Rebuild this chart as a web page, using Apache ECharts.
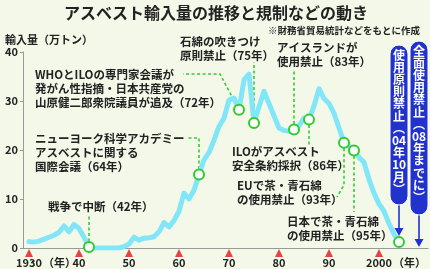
<!DOCTYPE html>
<html><head><meta charset="utf-8">
<script src="https://cdn.jsdelivr.net/npm/echarts@6/dist/echarts.min.js"></script>
<style>html,body{margin:0;padding:0;background:#f4f8e8;}#c{width:430px;height:269px;}</style>
</head><body><div id="c"></div>
<script>
// ---- data ----
const years = [1930,1931,1932,1933,1934,1935,1936,1937,1938,1939,
  1940,1941,1942,1943,1944,1945,1946,1947,1948,1949,
  1950,1951,1952,1953,1954,1955,1956,1957,1958,1959,
  1960,1961,1962,1963,1964,1965,1966,1967,1968,1969,
  1970,1971,1972,1973,1974,1975,1976,1977,1978,1979,
  1980,1981,1982,1983,1984,1985,1986,1987,1988,1989,
  1990,1991,1992,1993,1994,1995,1996,1997,1998,1999,
  2000,2001,2002,2003,2004];
const imports = [1.3,1.2,1.4,1.8,2.2,2.6,3.2,4.5,3.3,4.8,
  4.0,2.2,0.2,0,0,0,0,0,0,0.3,
  0.8,2.2,1.6,2.0,2.1,2.3,3.3,5.2,4.3,5.6,
  7.5,11.2,10.0,11.8,15.0,18.0,19.5,22.0,24.8,26.5,
  30.2,30.6,28.2,34.3,35.5,25.5,28.8,32.0,29.5,27.0,
  24.5,24.0,23.8,24.2,25.0,26.5,26.2,29.0,32.5,30.5,
  29.5,27.5,24.5,21.5,20.8,19.9,18.5,17.5,14.0,11.2,
  9.0,7.5,5.0,2.8,1.2];
const eventYears = [1942,1964,1972,1975,1983,1986,1993,1995,2004];
const eventLabels = [
  '戦争で中断（42年）',
  'ニューヨーク科学アカデミー\nアスベストに関する\n国際会議（64年）',
  'WHOとILOの専門家会議が\n発がん性指摘・日本共産党の\n山原健二郎衆院議員が追及（72年）',
  '石綿の吹きつけ\n原則禁止（75年）',
  'アイスランドが\n使用禁止（83年）',
  'ILOがアスベスト\n安全条約採択（86年）',
  'EUで茶・青石綿\nの使用禁止（93年）',
  '日本で茶・青石綿\nの使用禁止（95年）',
  ''
];
const banYears = [2004, 2008];
const banLabels = [['使','用','原','則','禁','止','︵','04','年','10','月','︶'],
                   ['全','面','使','用','禁','止','︵','08','年','ま','で','に','︶']];
const xTickYears = [1930,1940,1950,1960,1970,1980,1990,2000];
const xUnit = '（年）';
const title = 'アスベスト輸入量の推移と規制などの動き';
const subtitle = '※財務省貿易統計などをもとに作成';
const yName = '輸入量（万トン）';

const FONT = '"Noto Sans CJK JP","Noto Sans",sans-serif';
const chart = echarts.init(document.getElementById('c'), null, {renderer:'canvas'});
const lineData = years.map((y,i)=>[y, imports[i]]);
const evData = eventYears.map(y=>[y, imports[years.indexOf(y)]]);

chart.setOption({
  backgroundColor:'#f4f8e8',
  animation:false,
  textStyle:{fontFamily:FONT},
  grid:{left:23,right:2,top:52,bottom:21,containLabel:false},
  xAxis:{type:'value',min:1928.8,max:2009.8,
    axisLine:{show:true,lineStyle:{color:'#999',width:1}},
    axisTick:{show:false},splitLine:{show:false},
    axisLabel:{customValues:xTickYears,margin:9,fontSize:11,fontWeight:'bold',color:'#222',fontFamily:FONT,
      hideOverlap:false,
      formatter:v=>{v=Number(v);return (v===1930||v===2000)?String(v):String(v%100);}}
  },
  yAxis:{type:'value',min:0,max:40,interval:10,
    name:yName,nameLocation:'end',nameGap:7,
    nameTextStyle:{align:'left',padding:[0,0,0,-18],fontSize:11,fontWeight:'bold',color:'#222',fontFamily:FONT},
    axisLine:{show:true,lineStyle:{color:'#999',width:1}},
    axisTick:{show:true,length:3,lineStyle:{color:'#999'}},
    splitLine:{show:false},
    axisLabel:{fontSize:11,fontWeight:'bold',color:'#222',margin:5,fontFamily:FONT}
  },
  series:[
    {type:'line',data:lineData,showSymbol:false,symbol:'none',
      lineStyle:{color:'#80e6f8',width:5,join:'round',cap:'round'},z:2},
    {type:'scatter',data:evData,symbol:'circle',symbolSize:10,
      itemStyle:{color:'#ffffff',borderColor:'#2ecc2e',borderWidth:2,opacity:1},z:5},
    {type:'scatter',data:xTickYears.map(y=>[y,0]),symbol:'triangle',symbolSize:[8,8],symbolOffset:[0,5],
      clip:false,itemStyle:{color:'#e01818'},z:4,silent:true}
  ]
});

// ---- annotations (layout) ----
const px = (x,y)=>chart.convertToPixel({gridIndex:0},[x,y]);
const g = [];
const LH = 14;
function txt(t,x,yc,opt){
  opt=opt||{};
  g.push({type:'text',z:opt.z||1,style:{text:t,x:x,y:yc-(opt.lh||LH)/2,
    font:(opt.weight||'bold')+' '+(opt.size||11.5)+'px '+FONT,fill:opt.fill||'#222',
    lineHeight:opt.lh||LH,verticalAlign:'top',align:opt.align||'left'}});
}
function dash(points){
  g.push({type:'polyline',z:1,shape:{points:points},style:{stroke:'#33cc33',lineWidth:1.6,lineDash:[3,2.5],fill:null}});
}
txt(title,216,13,{size:16,align:'center',lh:18});
txt(subtitle,268,30,{size:9.5,lh:12});
[1930,2000].forEach(y=>{ const p=px(y,0); txt(xUnit,p[0]+14,263,{size:11,lh:13}); });
const P = eventYears.map((y,i)=>px(y,evData[i][1]));
txt(eventLabels[0],48,207);
dash([P[0],[P[0][0],215]]);
txt(eventLabels[1],35,139);
dash([P[1],[P[1][0],138],[P[1][0]-13,138]]);
txt(eventLabels[2],35,75);
dash([P[2],[220,74],[183,74]]);
txt(eventLabels[3],180,42);
dash([P[3],[P[3][0],62]]);
txt(eventLabels[4],277,48);
dash([P[4],[P[4][0],71]]);
txt(eventLabels[5],232,152);
dash([P[5],[P[5][0],146]]);
txt(eventLabels[6],237,186);
dash([P[6],[P[6][0],185],[P[6][0]-7,197]]);
txt(eventLabels[7],287,222);
dash([P[7],[P[7][0],212]]);

// ban boxes
const boxTop=[45,41], boxBot=[205,215];
banYears.forEach((y,i)=>{
  const cx = px(y,0)[0];
  const target = i===0 ? P[8][1]-6 : px(y,0)[1]-1;
  const w=18;
  g.push({type:'line',z:3,shape:{x1:cx,y1:boxBot[i]-4,x2:cx,y2:target-6},style:{stroke:'#2233cc',lineWidth:1.6}});
  g.push({type:'polygon',z:3,shape:{points:[[cx-4.5,target-8],[cx+4.5,target-8],[cx,target]]},style:{fill:'#2233cc'}});
  g.push({type:'rect',z:3,shape:{x:cx-w/2,y:boxTop[i],width:w,height:boxBot[i]-boxTop[i],r:9},style:{fill:'#2233cc',stroke:'#ffffff',lineWidth:1}});
  g.push({type:'text',z:4,style:{text:banLabels[i].join('\n'),x:cx,y:boxTop[i]+4,align:'center',verticalAlign:'top',
    font:'bold 12px '+FONT,fill:'#ffffff',lineHeight:12.2}});
});
chart.setOption({graphic:g});
</script></body></html>
